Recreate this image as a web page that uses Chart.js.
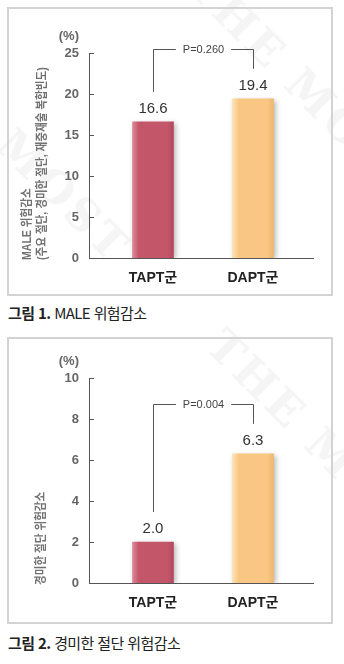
<!DOCTYPE html>
<html lang="ko">
<head>
<meta charset="utf-8">
<script src="https://cdn.jsdelivr.net/npm/chart.js@4.4.1/dist/chart.umd.min.js"></script>
<style>
  body { margin: 0; background: #fff; }
  #page { position: relative; width: 344px; height: 664px; overflow: hidden; background: #fff; }
  .box { position: absolute; left: 7px; width: 322px; border: 2px solid #d3d3d3; background: transparent; }
  .box canvas { display: block; }
  .caption { position: absolute; left: 8px; font: 15px 'Noto Sans CJK KR', sans-serif; line-height: 20px; color: #222; letter-spacing: -0.6px; white-space: nowrap; }
  .caption b { font-weight: 700; }
  .wm { position: absolute; font: bold 44px 'DejaVu Serif', serif; color: #f5f5f5; letter-spacing: 4px; transform: rotate(45deg); white-space: nowrap; }
</style>
</head>
<body>
<div id="page">
  <div class="wm" style="left:150px; top:60px;">THE MOST</div>
  <div class="wm" style="left:-20px; top:170px;">MOST</div>
  <div class="wm" style="left:170px; top:420px;">THE MOST</div>
  <div class="box" style="top:7px; height:285px;"><canvas id="chart1" width="322" height="285"></canvas></div>
  <div class="caption" style="top:303px;"><b>그림 1.</b> MALE 위험감소</div>
  <div class="box" style="top:337px; height:283px;"><canvas id="chart2" width="322" height="283"></canvas></div>
  <div class="caption" style="top:633px;"><b>그림 2.</b> 경미한 절단 위험감소</div>
</div>
<script>
const groups = ['TAPT군', 'DAPT군'];
const maleRates = [16.6, 19.4];
const minorAmputationRates = [2.0, 6.3];
const pValues = ['P=0.260', 'P=0.004'];
const yMax = [25, 10];
const yStep = [5, 2];
const yTitles = [
    ['MALE 위험감소', '(주요 절단, 경미한 절단, 재중재술 복합빈도)'],
    ['경미한 절단 위험감소']
];

const FONT = "'Liberation Sans', 'Noto Sans CJK KR', sans-serif";
// light edge, body, dark edge
const palettes = [
    ['#dc8593', '#c4566a', '#b24a5d'],
    ['#fde0b2', '#f9c783', '#eeb86f']
];

function barFill(c) {
    const pal = palettes[c.dataIndex];
    const chart = c.chart;
    if (!chart.chartArea) return pal[1];
    const x = chart.scales.x.getPixelForValue(c.dataIndex);
    const g = chart.ctx.createLinearGradient(x - 20, 0, x + 20, 0);
    g.addColorStop(0, pal[0]);
    g.addColorStop(0.14, pal[1]);
    g.addColorStop(0.86, pal[1]);
    g.addColorStop(1, pal[2]);
    return g;
}

const shadowPlugin = {
    id: 'shadow',
    beforeDatasetsDraw(chart) {
        const ctx = chart.ctx;
        ctx.save();
        ctx.shadowColor = 'rgba(0,0,0,0.28)';
        ctx.shadowBlur = 5;
        ctx.shadowOffsetX = 2;
        ctx.shadowOffsetY = 1;
    },
    afterDatasetsDraw(chart) {
        chart.ctx.restore();
    }
};

const annotatePlugin = {
    id: 'annotate',
    afterDatasetsDraw(chart, args, opts) {
        const ctx = chart.ctx;
        const area = chart.chartArea;
        const y = chart.scales.y;
        const meta = chart.getDatasetMeta(0);
        const vals = chart.data.datasets[0].data.map(d => d.y);
        ctx.save();

        // tick marks inside the axis
        ctx.strokeStyle = '#555';
        ctx.lineWidth = 1;
        y.ticks.forEach(t => {
            const py = Math.round(y.getPixelForValue(t.value)) + 0.5;
            ctx.beginPath();
            ctx.moveTo(area.left, py);
            ctx.lineTo(area.left + 5, py);
            ctx.stroke();
        });

        // unit
        ctx.fillStyle = '#666';
        ctx.font = 'bold 13px ' + FONT;
        ctx.textAlign = 'right';
        ctx.textBaseline = 'middle';
        ctx.fillText('(%)', y.right - 10, area.top - 17);

        // axis title, rotated and slightly condensed
        ctx.save();
        ctx.translate(0, area.bottom + 2);
        ctx.rotate(-Math.PI / 2);
        ctx.scale(0.88, 1);
        ctx.font = 'bold 12px ' + FONT;
        ctx.fillStyle = '#727272';
        ctx.textAlign = 'left';
        opts.title.forEach((line, i) => {
            ctx.fillText(line, 0, opts.titleX[i]);
        });
        ctx.restore();

        // value labels
        ctx.fillStyle = '#333';
        ctx.font = '15px ' + FONT;
        ctx.textAlign = 'center';
        const labelTops = [];
        meta.data.forEach((bar, i) => {
            const cy = bar.y - 13;
            ctx.fillText(vals[i].toFixed(1), bar.x, cy);
            labelTops.push(cy - 8);
        });

        // p-value bracket
        const hy = Math.round(Math.min(...labelTops) - 29) + 0.5;
        const x0 = Math.round(meta.data[0].x) + 0.5;
        const x1 = Math.round(meta.data[1].x) + 0.5;
        const mid = (x0 + x1) / 2;
        ctx.font = '11px ' + FONT;
        const tw = ctx.measureText(opts.p).width;
        ctx.strokeStyle = '#555';
        ctx.beginPath();
        ctx.moveTo(x0, labelTops[0] - 9);
        ctx.lineTo(x0, hy);
        ctx.lineTo(mid - tw / 2 - 7, hy);
        ctx.moveTo(mid + tw / 2 + 7, hy);
        ctx.lineTo(x1, hy);
        ctx.lineTo(x1, labelTops[1] - 9);
        ctx.stroke();
        ctx.fillStyle = '#444';
        ctx.fillText(opts.p, mid, hy);
        ctx.restore();
    }
};

function makeChart(id, values, k, top, titleX) {
    const canvas = document.getElementById(id);
    return new Chart(canvas.getContext('2d'), {
        type: 'bar',
        data: {
            datasets: [{
                data: values.map((v, i) => ({ x: i, y: v })),
                backgroundColor: barFill,
                borderWidth: 0,
                barThickness: 41
            }]
        },
        plugins: [shadowPlugin, annotatePlugin],
        options: {
            responsive: false,
            animation: false,
            events: [],
            layout: { padding: { top: top, right: 18, bottom: 0, left: 0 } },
            plugins: {
                legend: { display: false },
                tooltip: { enabled: false },
                annotate: { p: pValues[k], title: yTitles[k], titleX: titleX }
            },
            scales: {
                x: {
                    type: 'linear',
                    min: -0.64,
                    max: 1.6,
                    offset: false,
                    bounds: 'data',
                    afterBuildTicks: s => { s.ticks = groups.map((g, i) => ({ value: i })); },
                    afterFit: s => { s.height = canvas.height - (top + 205); },
                    grid: { display: false, drawTicks: false, offset: false },
                    border: { display: true, color: '#555', width: 1 },
                    ticks: {
                        callback: v => groups[v],
                        color: '#222',
                        padding: 12,
                        maxRotation: 0,
                        autoSkip: false,
                        font: { family: FONT, size: 14, weight: 'bold' }
                    }
                },
                y: {
                    min: 0,
                    max: yMax[k],
                    afterFit: s => { s.width = 80; },
                    grid: { display: false, drawTicks: false },
                    border: { display: true, color: '#555', width: 1 },
                    ticks: {
                        stepSize: yStep[k],
                        color: '#666',
                        padding: 10,
                        font: { family: FONT, size: 13, weight: 'bold' }
                    }
                }
            }
        }
    });
}

makeChart('chart1', maleRates, 0, 44, [19, 34]);
makeChart('chart2', minorAmputationRates, 1, 39, [33]);
</script>
</body>
</html>
